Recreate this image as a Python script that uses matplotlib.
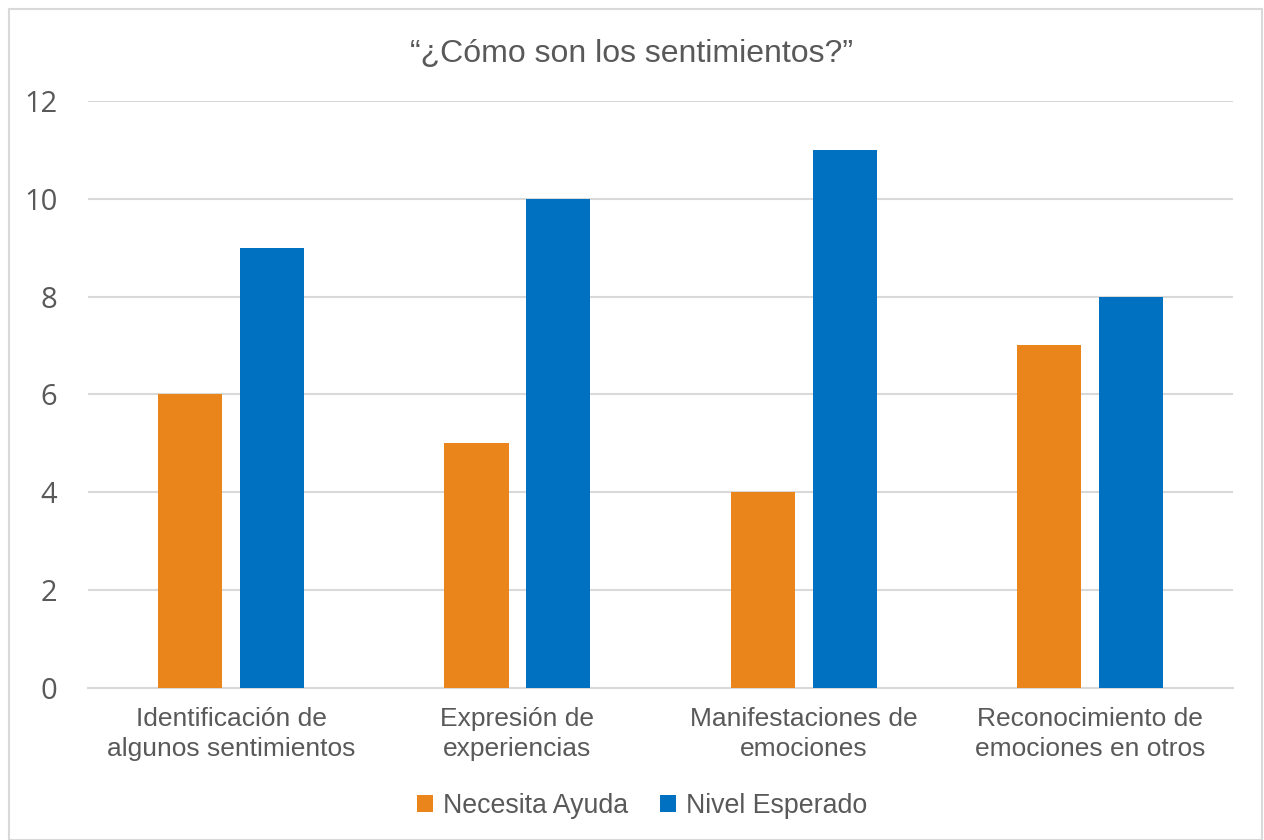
import matplotlib
matplotlib.use("Agg")
import matplotlib.pyplot as plt
import numpy as np
from matplotlib.patches import Rectangle

categories = [
  "Identificación de\nalgunos sentimientos",
  "Expresión de\nexperiencias",
  "Manifestaciones de\nemociones",
  "Reconocimiento de\nemociones en otros",
]
necesita_ayuda = [6, 5, 4, 7]
nivel_esperado = [9, 10, 11, 8]
series_names = ["Necesita Ayuda", "Nivel Esperado"]
y_ticks = [0, 2, 4, 6, 8, 10, 12]

orange = "#E9851A"
blue = "#0070C0"
text_color = "#595959"
grid_color = "#D9D9D9"

fig = plt.figure(figsize=(12.64, 8.4), dpi=100)
ax = fig.add_axes([0.0696, 0.181, 0.906, 0.699])

x = np.arange(len(categories))
width = 0.224
offset = 0.143
ax.bar(x - offset, necesita_ayuda, width, color=orange, label=series_names[0], zorder=3)
ax.bar(x + offset, nivel_esperado, width, color=blue, label=series_names[1], zorder=3)

ax.set_xlim(-0.5, len(categories) - 0.5)
ax.set_ylim(0, 12)
ax.set_yticks(y_ticks)
ax.set_yticklabels([str(t) for t in y_ticks], fontsize=21, color=text_color, family="Open Sans")
ax.set_xticks(x)
ax.set_xticklabels(categories, fontsize=19, color=text_color, family="Liberation Sans", linespacing=1.3)
ax.tick_params(axis="both", length=0)
ax.tick_params(axis="x", pad=14)
ax.tick_params(axis="y", pad=22)

ax.grid(axis="y", color=grid_color, linewidth=1.5, zorder=0)
for s in ["top", "right", "left"]:
  ax.spines[s].set_visible(False)
ax.spines["bottom"].set_color(grid_color)
ax.spines["bottom"].set_linewidth(1.5)

fig.text(0.5, 0.936, "“¿Cómo son los sentimientos?”", ha="center", va="center",
  fontsize=23, color=text_color, family="Liberation Sans")

ax.legend(
  loc="center",
  bbox_to_anchor=(0.508, 0.041),
  bbox_transform=fig.transFigure,
  ncol=2,
  frameon=False,
  prop={"family": "Liberation Sans", "size": 19.3},
  labelcolor=text_color,
  handlelength=0.6,
  handleheight=0.6,
  handletextpad=0.35,
  columnspacing=1.2,
)

fig.patches.append(Rectangle((9 / 1264, 0), 1253 / 1264, 831 / 840, transform=fig.transFigure,
  fill=False, edgecolor="#D9D9D9", linewidth=1.5))

fig.savefig("out.png", dpi=100)
plt.close(fig)
